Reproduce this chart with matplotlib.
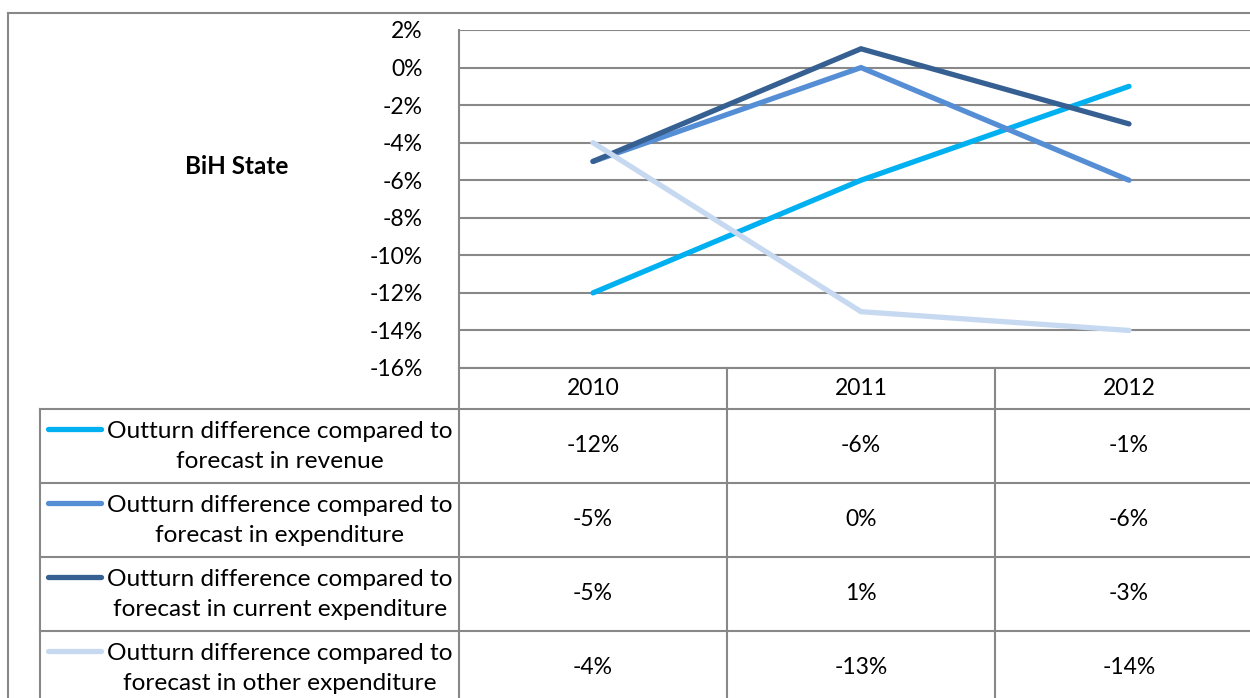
import matplotlib
matplotlib.use("Agg")
import matplotlib.pyplot as plt
from matplotlib.lines import Line2D

plt.rcParams['font.family'] = ['Lato', 'DejaVu Sans']

W, H = 1250, 698

years = ['2010', '2011', '2012']
revenue = [-12, -6, -1]
expenditure = [-5, 0, -6]
current_exp = [-5, 1, -3]
other_exp = [-4, -13, -14]

series_names = [
    'Outturn difference compared to\nforecast in revenue',
    'Outturn difference compared to\nforecast in expenditure',
    'Outturn difference compared to\nforecast in current expenditure',
    'Outturn difference compared to\nforecast in other expenditure',
]
series_values = [revenue, expenditure, current_exp, other_exp]
colors = ['#00B0F0', '#558ED5', '#376092', '#C6D9F1']
y_ticks = list(range(2, -17, -2))

GRID = '#888888'
FS_NUM = 16.5   # numbers
FS_TXT = 17.6   # legend text

fig = plt.figure(figsize=(W / 100, H / 100), dpi=100)


def fx(px):
    return px / W


def fy(py):
    return 1 - py / H


# plot area in pixel coordinates
left, right, top, bottom = 459, 1263, 30, 368
col_w = (right - left) / 3

ax = fig.add_axes([fx(left), fy(bottom), fx(right - left), (bottom - top) / H])
ax.set_xlim(0, 3)
ax.set_ylim(-16, 2)
ax.set_yticks(y_ticks)
ax.set_yticklabels([f'{t}%' for t in y_ticks], fontsize=FS_NUM)
ax.tick_params(axis='y', length=0, pad=26)
ax.set_xticks([])
ax.grid(axis='y', color=GRID, linewidth=1.5)
ax.set_axisbelow(True)
for s in ['top', 'right', 'bottom']:
    ax.spines[s].set_visible(False)
ax.spines['left'].set_color(GRID)
ax.spines['left'].set_linewidth(1.5)

xs = [0.5, 1.5, 2.5]
for vals, c in zip(series_values, colors):
    ax.plot(xs, vals, color=c, linewidth=3.8, solid_capstyle='round',
            solid_joinstyle='miter', clip_on=False, zorder=3)

# overlay axes in pixel coordinates for frame and data table
ov = fig.add_axes([0, 0, 1, 1])
ov.set_xlim(0, W)
ov.set_ylim(H, 0)
ov.axis('off')


def hline(x0, x1, y):
    ov.add_line(Line2D([x0, x1], [y, y], color=GRID, linewidth=1.5))


def vline(x, y0, y1):
    ov.add_line(Line2D([x, x], [y0, y1], color=GRID, linewidth=1.5))


# outer chart frame
hline(8, W, 13)
vline(8, 13, H)

ov.text(237, 166, 'BiH State', fontsize=17.5, fontweight='bold',
        ha='center', va='center')

# data table
header_h = 41
row_h = 74
tab_left = 40
hline(left, W, bottom)
y = bottom + header_h
hline(tab_left, W, y)
for i in range(3):
    cx = left + col_w * (i + 0.5)
    ov.text(cx, bottom + header_h / 2, years[i], fontsize=FS_NUM,
            ha='center', va='center')
vline(left, bottom, H)
for i in range(1, 3):
    vline(left + col_w * i, bottom, H)
vline(tab_left, y, H)

for r, (name, vals, c) in enumerate(zip(series_names, series_values, colors)):
    y0 = y + r * row_h
    y1 = y0 + row_h
    hline(tab_left, W, y1)
    ym = (y0 + y1) / 2
    ov.add_line(Line2D([48, 101], [y0 + 20, y0 + 20], color=c,
                       linewidth=3.8, solid_capstyle='round'))
    ov.text(280, ym + 0.5, name, fontsize=FS_TXT, ha='center', va='center',
            linespacing=1.48)
    for i, v in enumerate(vals):
        cx = left + col_w * (i + 0.5)
        ov.text(cx, ym, f'{v}%', fontsize=FS_NUM, ha='center', va='center')

fig.savefig('out.png', dpi=100)
